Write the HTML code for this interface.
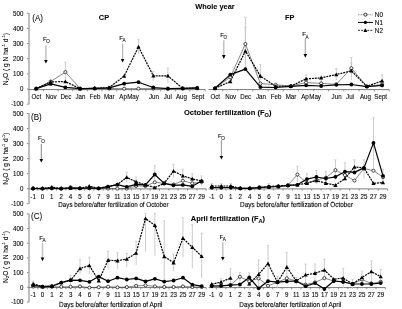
<!DOCTYPE html><html><head><meta charset="utf-8"><style>html,body{margin:0;padding:0;background:#fff;overflow:hidden;width:402px;height:309px;}svg{display:block;will-change:transform;filter:blur(0.35px);}text{font-family:"Liberation Sans",sans-serif;fill:#000;stroke:#000;stroke-width:0.08px;}text[font-weight=bold]{stroke-width:0.06px;}</style></head><body>
<svg width="402" height="309" viewBox="0 0 402 309">
<rect width="402" height="309" fill="#fff"/>
<text x="215" y="9.4" font-size="7.4" text-anchor="middle" font-weight="bold" >Whole year</text>
<text x="184" y="115.4" font-size="7.55" font-weight="bold">October fertilization (F<tspan font-size="5.6" dy="1.6">O</tspan><tspan dy="-1.6">)</tspan></text>
<text x="190.8" y="221.4" font-size="7.45" font-weight="bold">April fertilization (F<tspan font-size="5.6" dy="1.6">A</tspan><tspan dy="-1.6">)</tspan></text>
<text x="98.8" y="19.9" font-size="7.4" text-anchor="start" font-weight="bold" >CP</text>
<text x="284.9" y="19.9" font-size="7.4" text-anchor="start" font-weight="bold" >FP</text>
<text transform="translate(32.2,21.2) scale(1,1.1)" font-size="8.1" text-anchor="start" font-weight="normal" style="stroke-width:0.04px">(A)</text>
<text transform="translate(31,119.8) scale(1,1.1)" font-size="8.1" text-anchor="start" font-weight="normal" style="stroke-width:0.04px">(B)</text>
<text transform="translate(31,219) scale(1,1.1)" font-size="8.1" text-anchor="start" font-weight="normal" style="stroke-width:0.04px">(C)</text>
<line x1="29" y1="13.1" x2="29" y2="104.45" stroke="#b4b4b4" stroke-width="1.7" />
<line x1="26.9" y1="104.15" x2="28.4" y2="104.15" stroke="#555" stroke-width="0.7" />
<text transform="translate(23.4,106.45) scale(1,1.1)" font-size="6.2" text-anchor="end" font-weight="normal" >-100</text>
<line x1="26.9" y1="89" x2="28.4" y2="89" stroke="#555" stroke-width="0.7" />
<text transform="translate(23.4,91.3) scale(1,1.1)" font-size="6.2" text-anchor="end" font-weight="normal" >0</text>
<line x1="26.9" y1="73.85" x2="28.4" y2="73.85" stroke="#555" stroke-width="0.7" />
<text transform="translate(23.4,76.15) scale(1,1.1)" font-size="6.2" text-anchor="end" font-weight="normal" >100</text>
<line x1="26.9" y1="58.7" x2="28.4" y2="58.7" stroke="#555" stroke-width="0.7" />
<text transform="translate(23.4,61) scale(1,1.1)" font-size="6.2" text-anchor="end" font-weight="normal" >200</text>
<line x1="26.9" y1="43.55" x2="28.4" y2="43.55" stroke="#555" stroke-width="0.7" />
<text transform="translate(23.4,45.85) scale(1,1.1)" font-size="6.2" text-anchor="end" font-weight="normal" >300</text>
<line x1="26.9" y1="28.4" x2="28.4" y2="28.4" stroke="#555" stroke-width="0.7" />
<text transform="translate(23.4,30.7) scale(1,1.1)" font-size="6.2" text-anchor="end" font-weight="normal" >400</text>
<line x1="26.9" y1="13.25" x2="28.4" y2="13.25" stroke="#555" stroke-width="0.7" />
<text transform="translate(23.4,15.55) scale(1,1.1)" font-size="6.2" text-anchor="end" font-weight="normal" >500</text>
<line x1="29" y1="113.2" x2="29" y2="204.04" stroke="#b4b4b4" stroke-width="1.7" />
<line x1="26.9" y1="203.74" x2="28.4" y2="203.74" stroke="#555" stroke-width="0.7" />
<text transform="translate(23.4,206.04) scale(1,1.1)" font-size="6.2" text-anchor="end" font-weight="normal" >-100</text>
<line x1="26.9" y1="188.7" x2="28.4" y2="188.7" stroke="#555" stroke-width="0.7" />
<text transform="translate(23.4,191) scale(1,1.1)" font-size="6.2" text-anchor="end" font-weight="normal" >0</text>
<line x1="26.9" y1="173.66" x2="28.4" y2="173.66" stroke="#555" stroke-width="0.7" />
<text transform="translate(23.4,175.96) scale(1,1.1)" font-size="6.2" text-anchor="end" font-weight="normal" >100</text>
<line x1="26.9" y1="158.62" x2="28.4" y2="158.62" stroke="#555" stroke-width="0.7" />
<text transform="translate(23.4,160.92) scale(1,1.1)" font-size="6.2" text-anchor="end" font-weight="normal" >200</text>
<line x1="26.9" y1="143.58" x2="28.4" y2="143.58" stroke="#555" stroke-width="0.7" />
<text transform="translate(23.4,145.88) scale(1,1.1)" font-size="6.2" text-anchor="end" font-weight="normal" >300</text>
<line x1="26.9" y1="128.54" x2="28.4" y2="128.54" stroke="#555" stroke-width="0.7" />
<text transform="translate(23.4,130.84) scale(1,1.1)" font-size="6.2" text-anchor="end" font-weight="normal" >400</text>
<line x1="26.9" y1="113.5" x2="28.4" y2="113.5" stroke="#555" stroke-width="0.7" />
<text transform="translate(23.4,115.8) scale(1,1.1)" font-size="6.2" text-anchor="end" font-weight="normal" >500</text>
<line x1="29" y1="213.4" x2="29" y2="302.28" stroke="#b4b4b4" stroke-width="1.7" />
<line x1="26.9" y1="301.98" x2="28.4" y2="301.98" stroke="#555" stroke-width="0.7" />
<text transform="translate(23.4,304.28) scale(1,1.1)" font-size="6.2" text-anchor="end" font-weight="normal" >-100</text>
<line x1="26.9" y1="287.3" x2="28.4" y2="287.3" stroke="#555" stroke-width="0.7" />
<text transform="translate(23.4,289.6) scale(1,1.1)" font-size="6.2" text-anchor="end" font-weight="normal" >0</text>
<line x1="26.9" y1="272.62" x2="28.4" y2="272.62" stroke="#555" stroke-width="0.7" />
<text transform="translate(23.4,274.92) scale(1,1.1)" font-size="6.2" text-anchor="end" font-weight="normal" >100</text>
<line x1="26.9" y1="257.94" x2="28.4" y2="257.94" stroke="#555" stroke-width="0.7" />
<text transform="translate(23.4,260.24) scale(1,1.1)" font-size="6.2" text-anchor="end" font-weight="normal" >200</text>
<line x1="26.9" y1="243.26" x2="28.4" y2="243.26" stroke="#555" stroke-width="0.7" />
<text transform="translate(23.4,245.56) scale(1,1.1)" font-size="6.2" text-anchor="end" font-weight="normal" >300</text>
<line x1="26.9" y1="228.58" x2="28.4" y2="228.58" stroke="#555" stroke-width="0.7" />
<text transform="translate(23.4,230.88) scale(1,1.1)" font-size="6.2" text-anchor="end" font-weight="normal" >400</text>
<line x1="26.9" y1="213.9" x2="28.4" y2="213.9" stroke="#555" stroke-width="0.7" />
<text transform="translate(23.4,216.2) scale(1,1.1)" font-size="6.2" text-anchor="end" font-weight="normal" >500</text>
<text transform="translate(7.8,59.1) rotate(-90)" font-size="6.6" text-anchor="middle">N<tspan font-size="4.4" dy="1.6">2</tspan><tspan dy="-1.6">O ( g N ha</tspan><tspan font-size="3.8" dy="-2.6">-1</tspan><tspan dy="2.6"> d</tspan><tspan font-size="3.8" dy="-2.6">-1</tspan><tspan dy="2.6">)</tspan></text>
<text transform="translate(7.8,158.8) rotate(-90)" font-size="6.6" text-anchor="middle">N<tspan font-size="4.4" dy="1.6">2</tspan><tspan dy="-1.6">O ( g N ha</tspan><tspan font-size="3.8" dy="-2.6">-1</tspan><tspan dy="2.6"> d</tspan><tspan font-size="3.8" dy="-2.6">-1</tspan><tspan dy="2.6">)</tspan></text>
<text transform="translate(7.8,257) rotate(-90)" font-size="6.6" text-anchor="middle">N<tspan font-size="4.4" dy="1.6">2</tspan><tspan dy="-1.6">O ( g N ha</tspan><tspan font-size="3.8" dy="-2.6">-1</tspan><tspan dy="2.6"> d</tspan><tspan font-size="3.8" dy="-2.6">-1</tspan><tspan dy="2.6">)</tspan></text>
<line x1="28.5" y1="89.6" x2="205.4" y2="89.6" stroke="#7a7a7a" stroke-width="1.0" />
<line x1="43.45" y1="89.6" x2="43.45" y2="91.4" stroke="#555" stroke-width="0.6" />
<line x1="58.05" y1="89.6" x2="58.05" y2="91.4" stroke="#555" stroke-width="0.6" />
<line x1="72.75" y1="89.6" x2="72.75" y2="91.4" stroke="#555" stroke-width="0.6" />
<line x1="87.4" y1="89.6" x2="87.4" y2="91.4" stroke="#555" stroke-width="0.6" />
<line x1="102" y1="89.6" x2="102" y2="91.4" stroke="#555" stroke-width="0.6" />
<line x1="116.75" y1="89.6" x2="116.75" y2="91.4" stroke="#555" stroke-width="0.6" />
<line x1="131.35" y1="89.6" x2="131.35" y2="91.4" stroke="#555" stroke-width="0.6" />
<line x1="145.9" y1="89.6" x2="145.9" y2="91.4" stroke="#555" stroke-width="0.6" />
<line x1="160.6" y1="89.6" x2="160.6" y2="91.4" stroke="#555" stroke-width="0.6" />
<line x1="175.3" y1="89.6" x2="175.3" y2="91.4" stroke="#555" stroke-width="0.6" />
<line x1="189.95" y1="89.6" x2="189.95" y2="91.4" stroke="#555" stroke-width="0.6" />
<line x1="205.2" y1="89.6" x2="205.2" y2="91.4" stroke="#555" stroke-width="0.6" />
<line x1="208.4" y1="89.6" x2="389.3" y2="89.6" stroke="#7a7a7a" stroke-width="1.0" />
<line x1="222.65" y1="89.6" x2="222.65" y2="91.4" stroke="#555" stroke-width="0.6" />
<line x1="237.85" y1="89.6" x2="237.85" y2="91.4" stroke="#555" stroke-width="0.6" />
<line x1="252.9" y1="89.6" x2="252.9" y2="91.4" stroke="#555" stroke-width="0.6" />
<line x1="268" y1="89.6" x2="268" y2="91.4" stroke="#555" stroke-width="0.6" />
<line x1="283.2" y1="89.6" x2="283.2" y2="91.4" stroke="#555" stroke-width="0.6" />
<line x1="298.45" y1="89.6" x2="298.45" y2="91.4" stroke="#555" stroke-width="0.6" />
<line x1="313.65" y1="89.6" x2="313.65" y2="91.4" stroke="#555" stroke-width="0.6" />
<line x1="328.75" y1="89.6" x2="328.75" y2="91.4" stroke="#555" stroke-width="0.6" />
<line x1="343.85" y1="89.6" x2="343.85" y2="91.4" stroke="#555" stroke-width="0.6" />
<line x1="359.1" y1="89.6" x2="359.1" y2="91.4" stroke="#555" stroke-width="0.6" />
<line x1="374.45" y1="89.6" x2="374.45" y2="91.4" stroke="#555" stroke-width="0.6" />
<line x1="389.3" y1="89.6" x2="389.3" y2="91.4" stroke="#555" stroke-width="0.6" />
<text transform="translate(36.3,98.9) scale(1,1.1)" font-size="6.2" text-anchor="middle" font-weight="normal" >Oct</text>
<text transform="translate(51,98.9) scale(1,1.1)" font-size="6.2" text-anchor="middle" font-weight="normal" >Nov</text>
<text transform="translate(65.9,98.9) scale(1,1.1)" font-size="6.2" text-anchor="middle" font-weight="normal" >Dec</text>
<text transform="translate(80.5,98.9) scale(1,1.1)" font-size="6.2" text-anchor="middle" font-weight="normal" >Jan</text>
<text transform="translate(95,98.9) scale(1,1.1)" font-size="6.2" text-anchor="middle" font-weight="normal" >Feb</text>
<text transform="translate(109.2,98.9) scale(1,1.1)" font-size="6.2" text-anchor="middle" font-weight="normal" >Mar</text>
<text transform="translate(123.1,98.9) scale(1,1.1)" font-size="6.2" text-anchor="middle" font-weight="normal" >Ap</text>
<text transform="translate(133,98.9) scale(1,1.1)" font-size="6.2" text-anchor="middle" font-weight="normal" >May</text>
<text transform="translate(153.9,98.9) scale(1,1.1)" font-size="6.2" text-anchor="middle" font-weight="normal" >Jun</text>
<text transform="translate(167.8,98.9) scale(1,1.1)" font-size="6.2" text-anchor="middle" font-weight="normal" >Jul</text>
<text transform="translate(181.5,98.9) scale(1,1.1)" font-size="6.2" text-anchor="middle" font-weight="normal" >Aug</text>
<text transform="translate(197.8,98.9) scale(1,1.1)" font-size="6.2" text-anchor="middle" font-weight="normal" >Sept</text>
<text transform="translate(215.2,98.9) scale(1,1.1)" font-size="6.2" text-anchor="middle" font-weight="normal" >Oct</text>
<text transform="translate(230.7,98.9) scale(1,1.1)" font-size="6.2" text-anchor="middle" font-weight="normal" >Nov</text>
<text transform="translate(245.7,98.9) scale(1,1.1)" font-size="6.2" text-anchor="middle" font-weight="normal" >Dec</text>
<text transform="translate(260.9,98.9) scale(1,1.1)" font-size="6.2" text-anchor="middle" font-weight="normal" >Jan</text>
<text transform="translate(276,98.9) scale(1,1.1)" font-size="6.2" text-anchor="middle" font-weight="normal" >Feb</text>
<text transform="translate(291,98.9) scale(1,1.1)" font-size="6.2" text-anchor="middle" font-weight="normal" >Mar</text>
<text transform="translate(305,98.9) scale(1,1.1)" font-size="6.2" text-anchor="middle" font-weight="normal" >Ap</text>
<text transform="translate(315.1,98.9) scale(1,1.1)" font-size="6.2" text-anchor="middle" font-weight="normal" >May</text>
<text transform="translate(336.6,98.9) scale(1,1.1)" font-size="6.2" text-anchor="middle" font-weight="normal" >Jun</text>
<text transform="translate(350,98.9) scale(1,1.1)" font-size="6.2" text-anchor="middle" font-weight="normal" >Jul</text>
<text transform="translate(365.5,98.9) scale(1,1.1)" font-size="6.2" text-anchor="middle" font-weight="normal" >Aug</text>
<text transform="translate(380.7,98.9) scale(1,1.1)" font-size="6.2" text-anchor="middle" font-weight="normal" >Sept</text>
<line x1="65.4" y1="62.3" x2="65.4" y2="81" stroke="#c8c8c8" stroke-width="0.95" />
<line x1="64.2" y1="62.3" x2="66.6" y2="62.3" stroke="#c8c8c8" stroke-width="0.8" />
<line x1="138.5" y1="39.5" x2="138.5" y2="54" stroke="#c8c8c8" stroke-width="0.95" />
<line x1="137.3" y1="39.5" x2="139.7" y2="39.5" stroke="#c8c8c8" stroke-width="0.8" />
<line x1="153.3" y1="71.5" x2="153.3" y2="81.1" stroke="#c8c8c8" stroke-width="0.95" />
<line x1="152.1" y1="71.5" x2="154.5" y2="71.5" stroke="#c8c8c8" stroke-width="0.8" />
<line x1="167.9" y1="68.1" x2="167.9" y2="82.9" stroke="#c8c8c8" stroke-width="0.95" />
<line x1="166.7" y1="68.1" x2="169.1" y2="68.1" stroke="#c8c8c8" stroke-width="0.8" />
<polyline points="36.2,88.6 50.7,81.5 65.4,72.1 80.1,88.6 94.7,88.5 109.3,88.5 124.2,88.7 138.5,88.6 153.3,88.6 167.9,88.6 182.7,88.6 197.2,88.3" fill="none" stroke="#222" stroke-width="0.55" stroke-linejoin="round" />
<polyline points="36.2,88.6 50.7,81.9 65.4,81.6 80.1,88.6 94.7,88.4 109.3,87.5 124.2,76 138.5,46.8 153.3,75.8 167.9,75.9 182.7,88.4 197.2,88" fill="none" stroke="#000" stroke-width="1.2" stroke-linejoin="round" stroke-dasharray="2.0,0.9"/>
<polyline points="36.2,88.6 50.7,83.9 65.4,87.4 80.1,88.7 94.7,88.4 109.3,87.9 124.2,83.7 138.5,82.2 153.3,87.5 167.9,88.7 182.7,88.4 197.2,87.8" fill="none" stroke="#000" stroke-width="1.2" stroke-linejoin="round" />
<circle cx="36.2" cy="88.6" r="1.55" fill="#fff" stroke="#000" stroke-width="0.7"/>
<circle cx="50.7" cy="81.5" r="1.55" fill="#fff" stroke="#000" stroke-width="0.7"/>
<circle cx="65.4" cy="72.1" r="1.55" fill="#fff" stroke="#000" stroke-width="0.7"/>
<circle cx="80.1" cy="88.6" r="1.55" fill="#fff" stroke="#000" stroke-width="0.7"/>
<circle cx="94.7" cy="88.5" r="1.55" fill="#fff" stroke="#000" stroke-width="0.7"/>
<circle cx="109.3" cy="88.5" r="1.55" fill="#fff" stroke="#000" stroke-width="0.7"/>
<circle cx="124.2" cy="88.7" r="1.55" fill="#fff" stroke="#000" stroke-width="0.7"/>
<circle cx="138.5" cy="88.6" r="1.55" fill="#fff" stroke="#000" stroke-width="0.7"/>
<circle cx="153.3" cy="88.6" r="1.55" fill="#fff" stroke="#000" stroke-width="0.7"/>
<circle cx="167.9" cy="88.6" r="1.55" fill="#fff" stroke="#000" stroke-width="0.7"/>
<circle cx="182.7" cy="88.6" r="1.55" fill="#fff" stroke="#000" stroke-width="0.7"/>
<circle cx="197.2" cy="88.3" r="1.55" fill="#fff" stroke="#000" stroke-width="0.7"/>
<polygon points="36.2,86.5 34.1,90.28 38.3,90.28" fill="#000"/>
<polygon points="50.7,79.8 48.6,83.58 52.8,83.58" fill="#000"/>
<polygon points="65.4,79.5 63.3,83.28 67.5,83.28" fill="#000"/>
<polygon points="80.1,86.5 78,90.28 82.2,90.28" fill="#000"/>
<polygon points="94.7,86.3 92.6,90.08 96.8,90.08" fill="#000"/>
<polygon points="109.3,85.4 107.2,89.18 111.4,89.18" fill="#000"/>
<polygon points="124.2,73.9 122.1,77.68 126.3,77.68" fill="#000"/>
<polygon points="138.5,44.7 136.4,48.48 140.6,48.48" fill="#000"/>
<polygon points="153.3,73.7 151.2,77.48 155.4,77.48" fill="#000"/>
<polygon points="167.9,73.8 165.8,77.58 170,77.58" fill="#000"/>
<polygon points="182.7,86.3 180.6,90.08 184.8,90.08" fill="#000"/>
<polygon points="197.2,85.9 195.1,89.68 199.3,89.68" fill="#000"/>
<circle cx="36.2" cy="88.6" r="1.9" fill="#000" stroke="none" stroke-width="0.8"/>
<circle cx="50.7" cy="83.9" r="1.9" fill="#000" stroke="none" stroke-width="0.8"/>
<circle cx="65.4" cy="87.4" r="1.9" fill="#000" stroke="none" stroke-width="0.8"/>
<circle cx="80.1" cy="88.7" r="1.9" fill="#000" stroke="none" stroke-width="0.8"/>
<circle cx="94.7" cy="88.4" r="1.9" fill="#000" stroke="none" stroke-width="0.8"/>
<circle cx="109.3" cy="87.9" r="1.9" fill="#000" stroke="none" stroke-width="0.8"/>
<circle cx="124.2" cy="83.7" r="1.9" fill="#000" stroke="none" stroke-width="0.8"/>
<circle cx="138.5" cy="82.2" r="1.9" fill="#000" stroke="none" stroke-width="0.8"/>
<circle cx="153.3" cy="87.5" r="1.9" fill="#000" stroke="none" stroke-width="0.8"/>
<circle cx="167.9" cy="88.7" r="1.9" fill="#000" stroke="none" stroke-width="0.8"/>
<circle cx="182.7" cy="88.4" r="1.9" fill="#000" stroke="none" stroke-width="0.8"/>
<circle cx="197.2" cy="87.8" r="1.9" fill="#000" stroke="none" stroke-width="0.8"/>
<line x1="245.4" y1="17.3" x2="245.4" y2="70" stroke="#c8c8c8" stroke-width="0.95" />
<line x1="244.2" y1="17.3" x2="246.6" y2="17.3" stroke="#c8c8c8" stroke-width="0.8" />
<line x1="245.4" y1="27.3" x2="245.4" y2="60" stroke="#c8c8c8" stroke-width="0.95" />
<line x1="244.2" y1="27.3" x2="246.6" y2="27.3" stroke="#c8c8c8" stroke-width="0.8" />
<line x1="260.4" y1="64.4" x2="260.4" y2="79.9" stroke="#c8c8c8" stroke-width="0.95" />
<line x1="259.2" y1="64.4" x2="261.6" y2="64.4" stroke="#c8c8c8" stroke-width="0.8" />
<line x1="306.1" y1="74.9" x2="306.1" y2="82" stroke="#c8c8c8" stroke-width="0.95" />
<line x1="304.9" y1="74.9" x2="307.3" y2="74.9" stroke="#c8c8c8" stroke-width="0.8" />
<line x1="321.2" y1="76" x2="321.2" y2="82" stroke="#c8c8c8" stroke-width="0.95" />
<line x1="320" y1="76" x2="322.4" y2="76" stroke="#c8c8c8" stroke-width="0.8" />
<line x1="336.3" y1="68.5" x2="336.3" y2="80" stroke="#c8c8c8" stroke-width="0.95" />
<line x1="335.1" y1="68.5" x2="337.5" y2="68.5" stroke="#c8c8c8" stroke-width="0.8" />
<line x1="351.4" y1="57.4" x2="351.4" y2="80" stroke="#c8c8c8" stroke-width="0.95" />
<line x1="350.2" y1="57.4" x2="352.6" y2="57.4" stroke="#c8c8c8" stroke-width="0.8" />
<line x1="351.4" y1="63" x2="351.4" y2="75" stroke="#c8c8c8" stroke-width="0.95" />
<line x1="350.2" y1="63" x2="352.6" y2="63" stroke="#c8c8c8" stroke-width="0.8" />
<line x1="382.1" y1="74.9" x2="382.1" y2="86" stroke="#c8c8c8" stroke-width="0.95" />
<line x1="380.9" y1="74.9" x2="383.3" y2="74.9" stroke="#c8c8c8" stroke-width="0.8" />
<polyline points="215,88.3 230.3,77.2 245.4,44 260.4,83.5 275.6,84.8 290.8,86 306.1,82.6 321.2,83.4 336.3,84.3 351.4,68.2 366.8,86.4 382.1,84.5" fill="none" stroke="#222" stroke-width="0.55" stroke-linejoin="round" />
<polyline points="215,88.3 230.3,81.5 245.4,51 260.4,76.1 275.6,86.3 290.8,86.2 306.1,78.9 321.2,77.9 336.3,74.5 351.4,70.9 366.8,86.4 382.1,80.9" fill="none" stroke="#000" stroke-width="1.2" stroke-linejoin="round" stroke-dasharray="2.0,0.9"/>
<polyline points="215,88.3 230.3,74.6 245.4,69.1 260.4,87.1 275.6,87.5 290.8,86.3 306.1,85.3 321.2,86 336.3,84.8 351.4,84.5 366.8,86.6 382.1,85.4" fill="none" stroke="#000" stroke-width="1.2" stroke-linejoin="round" />
<circle cx="215" cy="88.3" r="1.55" fill="#fff" stroke="#000" stroke-width="0.7"/>
<circle cx="230.3" cy="77.2" r="1.55" fill="#fff" stroke="#000" stroke-width="0.7"/>
<circle cx="245.4" cy="44" r="1.55" fill="#fff" stroke="#000" stroke-width="0.7"/>
<circle cx="260.4" cy="83.5" r="1.55" fill="#fff" stroke="#000" stroke-width="0.7"/>
<circle cx="275.6" cy="84.8" r="1.55" fill="#fff" stroke="#000" stroke-width="0.7"/>
<circle cx="290.8" cy="86" r="1.55" fill="#fff" stroke="#000" stroke-width="0.7"/>
<circle cx="306.1" cy="82.6" r="1.55" fill="#fff" stroke="#000" stroke-width="0.7"/>
<circle cx="321.2" cy="83.4" r="1.55" fill="#fff" stroke="#000" stroke-width="0.7"/>
<circle cx="336.3" cy="84.3" r="1.55" fill="#fff" stroke="#000" stroke-width="0.7"/>
<circle cx="351.4" cy="68.2" r="1.55" fill="#fff" stroke="#000" stroke-width="0.7"/>
<circle cx="366.8" cy="86.4" r="1.55" fill="#fff" stroke="#000" stroke-width="0.7"/>
<circle cx="382.1" cy="84.5" r="1.55" fill="#fff" stroke="#000" stroke-width="0.7"/>
<polygon points="215,86.2 212.9,89.98 217.1,89.98" fill="#000"/>
<polygon points="230.3,79.4 228.2,83.18 232.4,83.18" fill="#000"/>
<polygon points="245.4,48.9 243.3,52.68 247.5,52.68" fill="#000"/>
<polygon points="260.4,74 258.3,77.78 262.5,77.78" fill="#000"/>
<polygon points="275.6,84.2 273.5,87.98 277.7,87.98" fill="#000"/>
<polygon points="290.8,84.1 288.7,87.88 292.9,87.88" fill="#000"/>
<polygon points="306.1,76.8 304,80.58 308.2,80.58" fill="#000"/>
<polygon points="321.2,75.8 319.1,79.58 323.3,79.58" fill="#000"/>
<polygon points="336.3,72.4 334.2,76.18 338.4,76.18" fill="#000"/>
<polygon points="351.4,68.8 349.3,72.58 353.5,72.58" fill="#000"/>
<polygon points="366.8,84.3 364.7,88.08 368.9,88.08" fill="#000"/>
<polygon points="382.1,78.8 380,82.58 384.2,82.58" fill="#000"/>
<circle cx="215" cy="88.3" r="1.9" fill="#000" stroke="none" stroke-width="0.8"/>
<circle cx="230.3" cy="74.6" r="1.9" fill="#000" stroke="none" stroke-width="0.8"/>
<circle cx="245.4" cy="69.1" r="1.9" fill="#000" stroke="none" stroke-width="0.8"/>
<circle cx="260.4" cy="87.1" r="1.9" fill="#000" stroke="none" stroke-width="0.8"/>
<circle cx="275.6" cy="87.5" r="1.9" fill="#000" stroke="none" stroke-width="0.8"/>
<circle cx="290.8" cy="86.3" r="1.9" fill="#000" stroke="none" stroke-width="0.8"/>
<circle cx="306.1" cy="85.3" r="1.9" fill="#000" stroke="none" stroke-width="0.8"/>
<circle cx="321.2" cy="86" r="1.9" fill="#000" stroke="none" stroke-width="0.8"/>
<circle cx="336.3" cy="84.8" r="1.9" fill="#000" stroke="none" stroke-width="0.8"/>
<circle cx="351.4" cy="84.5" r="1.9" fill="#000" stroke="none" stroke-width="0.8"/>
<circle cx="366.8" cy="86.6" r="1.9" fill="#000" stroke="none" stroke-width="0.8"/>
<circle cx="382.1" cy="85.4" r="1.9" fill="#000" stroke="none" stroke-width="0.8"/>
<text x="42.9" y="40.9" font-size="6.2" text-anchor="start" font-weight="normal" >F</text>
<text x="46.2" y="43.2" font-size="4.6" text-anchor="start" font-weight="normal" >O</text>
<line x1="45.9" y1="45.5" x2="45.9" y2="60.4" stroke="#b8b8b8" stroke-width="1.3" />
<polygon points="44.1,59.9 47.7,59.9 45.9,63.5" fill="#000"/>
<text x="119.3" y="40.1" font-size="6.2" text-anchor="start" font-weight="normal" >F</text>
<text x="122.6" y="42.4" font-size="4.6" text-anchor="start" font-weight="normal" >A</text>
<line x1="122.6" y1="43.6" x2="122.6" y2="59.5" stroke="#b8b8b8" stroke-width="1.3" />
<polygon points="120.8,59 124.4,59 122.6,62.4" fill="#000"/>
<text x="220.2" y="37" font-size="6.2" text-anchor="start" font-weight="normal" >F</text>
<text x="223.5" y="39.3" font-size="4.6" text-anchor="start" font-weight="normal" >O</text>
<line x1="223.8" y1="40.3" x2="223.8" y2="55.5" stroke="#b8b8b8" stroke-width="1.3" />
<polygon points="222,55 225.6,55 223.8,58.9" fill="#000"/>
<text x="302.2" y="36.3" font-size="6.2" text-anchor="start" font-weight="normal" >F</text>
<text x="305.5" y="38.6" font-size="4.6" text-anchor="start" font-weight="normal" >A</text>
<line x1="305.3" y1="38.9" x2="305.3" y2="54.5" stroke="#aaaaaa" stroke-width="1.2" />
<polygon points="303.5,54 307.1,54 305.3,57.7" fill="#000"/>
<line x1="28.5" y1="188.9" x2="206.2" y2="188.9" stroke="#7a7a7a" stroke-width="1.0" />
<line x1="37.78" y1="188.9" x2="37.78" y2="190.7" stroke="#555" stroke-width="0.6" />
<line x1="47.14" y1="188.9" x2="47.14" y2="190.7" stroke="#555" stroke-width="0.6" />
<line x1="56.5" y1="188.9" x2="56.5" y2="190.7" stroke="#555" stroke-width="0.6" />
<line x1="65.86" y1="188.9" x2="65.86" y2="190.7" stroke="#555" stroke-width="0.6" />
<line x1="75.22" y1="188.9" x2="75.22" y2="190.7" stroke="#555" stroke-width="0.6" />
<line x1="84.58" y1="188.9" x2="84.58" y2="190.7" stroke="#555" stroke-width="0.6" />
<line x1="93.94" y1="188.9" x2="93.94" y2="190.7" stroke="#555" stroke-width="0.6" />
<line x1="103.3" y1="188.9" x2="103.3" y2="190.7" stroke="#555" stroke-width="0.6" />
<line x1="112.66" y1="188.9" x2="112.66" y2="190.7" stroke="#555" stroke-width="0.6" />
<line x1="122.02" y1="188.9" x2="122.02" y2="190.7" stroke="#555" stroke-width="0.6" />
<line x1="131.38" y1="188.9" x2="131.38" y2="190.7" stroke="#555" stroke-width="0.6" />
<line x1="140.74" y1="188.9" x2="140.74" y2="190.7" stroke="#555" stroke-width="0.6" />
<line x1="150.1" y1="188.9" x2="150.1" y2="190.7" stroke="#555" stroke-width="0.6" />
<line x1="159.46" y1="188.9" x2="159.46" y2="190.7" stroke="#555" stroke-width="0.6" />
<line x1="168.82" y1="188.9" x2="168.82" y2="190.7" stroke="#555" stroke-width="0.6" />
<line x1="178.18" y1="188.9" x2="178.18" y2="190.7" stroke="#555" stroke-width="0.6" />
<line x1="187.54" y1="188.9" x2="187.54" y2="190.7" stroke="#555" stroke-width="0.6" />
<line x1="196.9" y1="188.9" x2="196.9" y2="190.7" stroke="#555" stroke-width="0.6" />
<line x1="206.26" y1="188.9" x2="206.26" y2="190.7" stroke="#555" stroke-width="0.6" />
<line x1="208.6" y1="188.9" x2="387.5" y2="188.9" stroke="#7a7a7a" stroke-width="1.0" />
<line x1="216.55" y1="188.9" x2="216.55" y2="190.7" stroke="#555" stroke-width="0.6" />
<line x1="226.06" y1="188.9" x2="226.06" y2="190.7" stroke="#555" stroke-width="0.6" />
<line x1="235.57" y1="188.9" x2="235.57" y2="190.7" stroke="#555" stroke-width="0.6" />
<line x1="245.08" y1="188.9" x2="245.08" y2="190.7" stroke="#555" stroke-width="0.6" />
<line x1="254.59" y1="188.9" x2="254.59" y2="190.7" stroke="#555" stroke-width="0.6" />
<line x1="264.1" y1="188.9" x2="264.1" y2="190.7" stroke="#555" stroke-width="0.6" />
<line x1="273.61" y1="188.9" x2="273.61" y2="190.7" stroke="#555" stroke-width="0.6" />
<line x1="283.12" y1="188.9" x2="283.12" y2="190.7" stroke="#555" stroke-width="0.6" />
<line x1="292.63" y1="188.9" x2="292.63" y2="190.7" stroke="#555" stroke-width="0.6" />
<line x1="302.14" y1="188.9" x2="302.14" y2="190.7" stroke="#555" stroke-width="0.6" />
<line x1="311.65" y1="188.9" x2="311.65" y2="190.7" stroke="#555" stroke-width="0.6" />
<line x1="321.16" y1="188.9" x2="321.16" y2="190.7" stroke="#555" stroke-width="0.6" />
<line x1="330.67" y1="188.9" x2="330.67" y2="190.7" stroke="#555" stroke-width="0.6" />
<line x1="340.18" y1="188.9" x2="340.18" y2="190.7" stroke="#555" stroke-width="0.6" />
<line x1="349.69" y1="188.9" x2="349.69" y2="190.7" stroke="#555" stroke-width="0.6" />
<line x1="359.2" y1="188.9" x2="359.2" y2="190.7" stroke="#555" stroke-width="0.6" />
<line x1="368.71" y1="188.9" x2="368.71" y2="190.7" stroke="#555" stroke-width="0.6" />
<line x1="378.22" y1="188.9" x2="378.22" y2="190.7" stroke="#555" stroke-width="0.6" />
<line x1="387.73" y1="188.9" x2="387.73" y2="190.7" stroke="#555" stroke-width="0.6" />
<text transform="translate(33.1,198.8) scale(1,1.1)" font-size="6.2" text-anchor="middle" font-weight="normal" >-1</text>
<text transform="translate(42.46,198.8) scale(1,1.1)" font-size="6.2" text-anchor="middle" font-weight="normal" >0</text>
<text transform="translate(51.82,198.8) scale(1,1.1)" font-size="6.2" text-anchor="middle" font-weight="normal" >1</text>
<text transform="translate(61.18,198.8) scale(1,1.1)" font-size="6.2" text-anchor="middle" font-weight="normal" >2</text>
<text transform="translate(70.54,198.8) scale(1,1.1)" font-size="6.2" text-anchor="middle" font-weight="normal" >4</text>
<text transform="translate(79.9,198.8) scale(1,1.1)" font-size="6.2" text-anchor="middle" font-weight="normal" >5</text>
<text transform="translate(89.26,198.8) scale(1,1.1)" font-size="6.2" text-anchor="middle" font-weight="normal" >6</text>
<text transform="translate(98.62,198.8) scale(1,1.1)" font-size="6.2" text-anchor="middle" font-weight="normal" >7</text>
<text transform="translate(107.98,198.8) scale(1,1.1)" font-size="6.2" text-anchor="middle" font-weight="normal" >9</text>
<text transform="translate(117.34,198.8) scale(1,1.1)" font-size="6.2" text-anchor="middle" font-weight="normal" >11</text>
<text transform="translate(126.7,198.8) scale(1,1.1)" font-size="6.2" text-anchor="middle" font-weight="normal" >13</text>
<text transform="translate(136.06,198.8) scale(1,1.1)" font-size="6.2" text-anchor="middle" font-weight="normal" >15</text>
<text transform="translate(145.42,198.8) scale(1,1.1)" font-size="6.2" text-anchor="middle" font-weight="normal" >17</text>
<text transform="translate(154.78,198.8) scale(1,1.1)" font-size="6.2" text-anchor="middle" font-weight="normal" >19</text>
<text transform="translate(164.14,198.8) scale(1,1.1)" font-size="6.2" text-anchor="middle" font-weight="normal" >21</text>
<text transform="translate(173.5,198.8) scale(1,1.1)" font-size="6.2" text-anchor="middle" font-weight="normal" >23</text>
<text transform="translate(182.86,198.8) scale(1,1.1)" font-size="6.2" text-anchor="middle" font-weight="normal" >25</text>
<text transform="translate(192.22,198.8) scale(1,1.1)" font-size="6.2" text-anchor="middle" font-weight="normal" >27</text>
<text transform="translate(201.58,198.8) scale(1,1.1)" font-size="6.2" text-anchor="middle" font-weight="normal" >29</text>
<text transform="translate(211.8,198.8) scale(1,1.1)" font-size="6.2" text-anchor="middle" font-weight="normal" >-1</text>
<text transform="translate(221.31,198.8) scale(1,1.1)" font-size="6.2" text-anchor="middle" font-weight="normal" >0</text>
<text transform="translate(230.82,198.8) scale(1,1.1)" font-size="6.2" text-anchor="middle" font-weight="normal" >1</text>
<text transform="translate(240.33,198.8) scale(1,1.1)" font-size="6.2" text-anchor="middle" font-weight="normal" >2</text>
<text transform="translate(249.84,198.8) scale(1,1.1)" font-size="6.2" text-anchor="middle" font-weight="normal" >4</text>
<text transform="translate(259.35,198.8) scale(1,1.1)" font-size="6.2" text-anchor="middle" font-weight="normal" >5</text>
<text transform="translate(268.86,198.8) scale(1,1.1)" font-size="6.2" text-anchor="middle" font-weight="normal" >6</text>
<text transform="translate(278.37,198.8) scale(1,1.1)" font-size="6.2" text-anchor="middle" font-weight="normal" >7</text>
<text transform="translate(287.88,198.8) scale(1,1.1)" font-size="6.2" text-anchor="middle" font-weight="normal" >9</text>
<text transform="translate(297.39,198.8) scale(1,1.1)" font-size="6.2" text-anchor="middle" font-weight="normal" >11</text>
<text transform="translate(306.9,198.8) scale(1,1.1)" font-size="6.2" text-anchor="middle" font-weight="normal" >13</text>
<text transform="translate(316.41,198.8) scale(1,1.1)" font-size="6.2" text-anchor="middle" font-weight="normal" >15</text>
<text transform="translate(325.92,198.8) scale(1,1.1)" font-size="6.2" text-anchor="middle" font-weight="normal" >17</text>
<text transform="translate(335.43,198.8) scale(1,1.1)" font-size="6.2" text-anchor="middle" font-weight="normal" >19</text>
<text transform="translate(344.94,198.8) scale(1,1.1)" font-size="6.2" text-anchor="middle" font-weight="normal" >21</text>
<text transform="translate(354.45,198.8) scale(1,1.1)" font-size="6.2" text-anchor="middle" font-weight="normal" >23</text>
<text transform="translate(363.96,198.8) scale(1,1.1)" font-size="6.2" text-anchor="middle" font-weight="normal" >25</text>
<text transform="translate(373.47,198.8) scale(1,1.1)" font-size="6.2" text-anchor="middle" font-weight="normal" >27</text>
<text transform="translate(382.98,198.8) scale(1,1.1)" font-size="6.2" text-anchor="middle" font-weight="normal" >29</text>
<text transform="translate(58.3,206.9) scale(1,1.15)" font-size="6.24" text-anchor="start" font-weight="normal" style="stroke-width:0.1px;text-rendering:geometricPrecision">Days before/after fertilization of October</text>
<text transform="translate(240.1,207.3) scale(1,1.15)" font-size="6.4" text-anchor="start" font-weight="normal" style="stroke-width:0.1px;text-rendering:geometricPrecision">Days before/after fertilization of October</text>
<line x1="126.7" y1="172.4" x2="126.7" y2="182" stroke="#c8c8c8" stroke-width="0.95" />
<line x1="125.5" y1="172.4" x2="127.9" y2="172.4" stroke="#c8c8c8" stroke-width="0.8" />
<line x1="136.06" y1="177.1" x2="136.06" y2="186" stroke="#c8c8c8" stroke-width="0.95" />
<line x1="134.86" y1="177.1" x2="137.26" y2="177.1" stroke="#c8c8c8" stroke-width="0.8" />
<line x1="154.78" y1="165.7" x2="154.78" y2="183" stroke="#c8c8c8" stroke-width="0.95" />
<line x1="153.58" y1="165.7" x2="155.98" y2="165.7" stroke="#c8c8c8" stroke-width="0.8" />
<line x1="173.5" y1="164.3" x2="173.5" y2="178" stroke="#c8c8c8" stroke-width="0.95" />
<line x1="172.3" y1="164.3" x2="174.7" y2="164.3" stroke="#c8c8c8" stroke-width="0.8" />
<line x1="182.86" y1="169.2" x2="182.86" y2="182" stroke="#c8c8c8" stroke-width="0.95" />
<line x1="181.66" y1="169.2" x2="184.06" y2="169.2" stroke="#c8c8c8" stroke-width="0.8" />
<line x1="192.22" y1="173.7" x2="192.22" y2="184" stroke="#c8c8c8" stroke-width="0.95" />
<line x1="191.02" y1="173.7" x2="193.42" y2="173.7" stroke="#c8c8c8" stroke-width="0.8" />
<line x1="201.58" y1="175.9" x2="201.58" y2="186" stroke="#c8c8c8" stroke-width="0.95" />
<line x1="200.38" y1="175.9" x2="202.78" y2="175.9" stroke="#c8c8c8" stroke-width="0.8" />
<polyline points="33.1,188.5 42.46,188.6 51.82,188.4 61.18,188.6 70.54,187.2 79.9,188.3 89.26,188.3 98.62,188.5 107.98,188.6 117.34,188.6 126.7,188.6 136.06,186 145.42,186 154.78,182.3 164.14,183.4 173.5,184.5 182.86,180.7 192.22,183.4 201.58,182" fill="none" stroke="#222" stroke-width="0.55" stroke-linejoin="round" />
<polyline points="33.1,188 42.46,188.4 51.82,187.2 61.18,188.4 70.54,188 79.9,188.3 89.26,186.2 98.62,188.3 107.98,186.6 117.34,184.6 126.7,177.4 136.06,181.8 145.42,184.9 154.78,187.5 164.14,183.4 173.5,171.1 182.86,175.9 192.22,178.9 201.58,181" fill="none" stroke="#000" stroke-width="1.2" stroke-linejoin="round" stroke-dasharray="2.0,0.9"/>
<polyline points="33.1,188.5 42.46,188.6 51.82,188.2 61.18,188.6 70.54,188 79.9,188.3 89.26,187.9 98.62,188.3 107.98,186.7 117.34,184.6 126.7,186.9 136.06,184.4 145.42,184.9 154.78,174.5 164.14,183.4 173.5,185.3 182.86,184.9 192.22,186.3 201.58,181.1" fill="none" stroke="#000" stroke-width="1.2" stroke-linejoin="round" />
<circle cx="33.1" cy="188.5" r="1.55" fill="#fff" stroke="#000" stroke-width="0.7"/>
<circle cx="42.46" cy="188.6" r="1.55" fill="#fff" stroke="#000" stroke-width="0.7"/>
<circle cx="51.82" cy="188.4" r="1.55" fill="#fff" stroke="#000" stroke-width="0.7"/>
<circle cx="61.18" cy="188.6" r="1.55" fill="#fff" stroke="#000" stroke-width="0.7"/>
<circle cx="70.54" cy="187.2" r="1.55" fill="#fff" stroke="#000" stroke-width="0.7"/>
<circle cx="79.9" cy="188.3" r="1.55" fill="#fff" stroke="#000" stroke-width="0.7"/>
<circle cx="89.26" cy="188.3" r="1.55" fill="#fff" stroke="#000" stroke-width="0.7"/>
<circle cx="98.62" cy="188.5" r="1.55" fill="#fff" stroke="#000" stroke-width="0.7"/>
<circle cx="107.98" cy="188.6" r="1.55" fill="#fff" stroke="#000" stroke-width="0.7"/>
<circle cx="117.34" cy="188.6" r="1.55" fill="#fff" stroke="#000" stroke-width="0.7"/>
<circle cx="126.7" cy="188.6" r="1.55" fill="#fff" stroke="#000" stroke-width="0.7"/>
<circle cx="136.06" cy="186" r="1.55" fill="#fff" stroke="#000" stroke-width="0.7"/>
<circle cx="145.42" cy="186" r="1.55" fill="#fff" stroke="#000" stroke-width="0.7"/>
<circle cx="154.78" cy="182.3" r="1.55" fill="#fff" stroke="#000" stroke-width="0.7"/>
<circle cx="164.14" cy="183.4" r="1.55" fill="#fff" stroke="#000" stroke-width="0.7"/>
<circle cx="173.5" cy="184.5" r="1.55" fill="#fff" stroke="#000" stroke-width="0.7"/>
<circle cx="182.86" cy="180.7" r="1.55" fill="#fff" stroke="#000" stroke-width="0.7"/>
<circle cx="192.22" cy="183.4" r="1.55" fill="#fff" stroke="#000" stroke-width="0.7"/>
<circle cx="201.58" cy="182" r="1.55" fill="#fff" stroke="#000" stroke-width="0.7"/>
<polygon points="33.1,185.9 31,189.68 35.2,189.68" fill="#000"/>
<polygon points="42.46,186.3 40.36,190.08 44.56,190.08" fill="#000"/>
<polygon points="51.82,185.1 49.72,188.88 53.92,188.88" fill="#000"/>
<polygon points="61.18,186.3 59.08,190.08 63.28,190.08" fill="#000"/>
<polygon points="70.54,185.9 68.44,189.68 72.64,189.68" fill="#000"/>
<polygon points="79.9,186.2 77.8,189.98 82,189.98" fill="#000"/>
<polygon points="89.26,184.1 87.16,187.88 91.36,187.88" fill="#000"/>
<polygon points="98.62,186.2 96.52,189.98 100.72,189.98" fill="#000"/>
<polygon points="107.98,184.5 105.88,188.28 110.08,188.28" fill="#000"/>
<polygon points="117.34,182.5 115.24,186.28 119.44,186.28" fill="#000"/>
<polygon points="126.7,175.3 124.6,179.08 128.8,179.08" fill="#000"/>
<polygon points="136.06,179.7 133.96,183.48 138.16,183.48" fill="#000"/>
<polygon points="145.42,182.8 143.32,186.58 147.52,186.58" fill="#000"/>
<polygon points="154.78,185.4 152.68,189.18 156.88,189.18" fill="#000"/>
<polygon points="164.14,181.3 162.04,185.08 166.24,185.08" fill="#000"/>
<polygon points="173.5,169 171.4,172.78 175.6,172.78" fill="#000"/>
<polygon points="182.86,173.8 180.76,177.58 184.96,177.58" fill="#000"/>
<polygon points="192.22,176.8 190.12,180.58 194.32,180.58" fill="#000"/>
<polygon points="201.58,178.9 199.48,182.68 203.68,182.68" fill="#000"/>
<circle cx="33.1" cy="188.5" r="1.9" fill="#000" stroke="none" stroke-width="0.8"/>
<circle cx="42.46" cy="188.6" r="1.9" fill="#000" stroke="none" stroke-width="0.8"/>
<circle cx="51.82" cy="188.2" r="1.9" fill="#000" stroke="none" stroke-width="0.8"/>
<circle cx="61.18" cy="188.6" r="1.9" fill="#000" stroke="none" stroke-width="0.8"/>
<circle cx="70.54" cy="188" r="1.9" fill="#000" stroke="none" stroke-width="0.8"/>
<circle cx="79.9" cy="188.3" r="1.9" fill="#000" stroke="none" stroke-width="0.8"/>
<circle cx="89.26" cy="187.9" r="1.9" fill="#000" stroke="none" stroke-width="0.8"/>
<circle cx="98.62" cy="188.3" r="1.9" fill="#000" stroke="none" stroke-width="0.8"/>
<circle cx="107.98" cy="186.7" r="1.9" fill="#000" stroke="none" stroke-width="0.8"/>
<circle cx="117.34" cy="184.6" r="1.9" fill="#000" stroke="none" stroke-width="0.8"/>
<circle cx="126.7" cy="186.9" r="1.9" fill="#000" stroke="none" stroke-width="0.8"/>
<circle cx="136.06" cy="184.4" r="1.9" fill="#000" stroke="none" stroke-width="0.8"/>
<circle cx="145.42" cy="184.9" r="1.9" fill="#000" stroke="none" stroke-width="0.8"/>
<circle cx="154.78" cy="174.5" r="1.9" fill="#000" stroke="none" stroke-width="0.8"/>
<circle cx="164.14" cy="183.4" r="1.9" fill="#000" stroke="none" stroke-width="0.8"/>
<circle cx="173.5" cy="185.3" r="1.9" fill="#000" stroke="none" stroke-width="0.8"/>
<circle cx="182.86" cy="184.9" r="1.9" fill="#000" stroke="none" stroke-width="0.8"/>
<circle cx="192.22" cy="186.3" r="1.9" fill="#000" stroke="none" stroke-width="0.8"/>
<circle cx="201.58" cy="181.1" r="1.9" fill="#000" stroke="none" stroke-width="0.8"/>
<line x1="211.8" y1="183.5" x2="211.8" y2="188" stroke="#c8c8c8" stroke-width="0.95" />
<line x1="210.6" y1="183.5" x2="213" y2="183.5" stroke="#c8c8c8" stroke-width="0.8" />
<line x1="221.31" y1="183.5" x2="221.31" y2="188" stroke="#c8c8c8" stroke-width="0.95" />
<line x1="220.11" y1="183.5" x2="222.51" y2="183.5" stroke="#c8c8c8" stroke-width="0.8" />
<line x1="230.82" y1="183.5" x2="230.82" y2="188" stroke="#c8c8c8" stroke-width="0.95" />
<line x1="229.62" y1="183.5" x2="232.02" y2="183.5" stroke="#c8c8c8" stroke-width="0.8" />
<line x1="268.86" y1="183.5" x2="268.86" y2="188" stroke="#c8c8c8" stroke-width="0.95" />
<line x1="267.66" y1="183.5" x2="270.06" y2="183.5" stroke="#c8c8c8" stroke-width="0.8" />
<line x1="297.39" y1="166.3" x2="297.39" y2="182" stroke="#c8c8c8" stroke-width="0.95" />
<line x1="296.19" y1="166.3" x2="298.59" y2="166.3" stroke="#c8c8c8" stroke-width="0.8" />
<line x1="306.9" y1="173.8" x2="306.9" y2="184" stroke="#c8c8c8" stroke-width="0.95" />
<line x1="305.7" y1="173.8" x2="308.1" y2="173.8" stroke="#c8c8c8" stroke-width="0.8" />
<line x1="316.41" y1="170.6" x2="316.41" y2="184" stroke="#c8c8c8" stroke-width="0.95" />
<line x1="315.21" y1="170.6" x2="317.61" y2="170.6" stroke="#c8c8c8" stroke-width="0.8" />
<line x1="325.92" y1="171.7" x2="325.92" y2="184" stroke="#c8c8c8" stroke-width="0.95" />
<line x1="324.72" y1="171.7" x2="327.12" y2="171.7" stroke="#c8c8c8" stroke-width="0.8" />
<line x1="335.43" y1="159.9" x2="335.43" y2="180" stroke="#c8c8c8" stroke-width="0.95" />
<line x1="334.23" y1="159.9" x2="336.63" y2="159.9" stroke="#c8c8c8" stroke-width="0.8" />
<line x1="344.94" y1="162.9" x2="344.94" y2="180" stroke="#c8c8c8" stroke-width="0.95" />
<line x1="343.74" y1="162.9" x2="346.14" y2="162.9" stroke="#c8c8c8" stroke-width="0.8" />
<line x1="354.45" y1="159.8" x2="354.45" y2="175" stroke="#c8c8c8" stroke-width="0.95" />
<line x1="353.25" y1="159.8" x2="355.65" y2="159.8" stroke="#c8c8c8" stroke-width="0.8" />
<line x1="363.96" y1="159.8" x2="363.96" y2="178.5" stroke="#c8c8c8" stroke-width="0.95" />
<line x1="362.76" y1="159.8" x2="365.16" y2="159.8" stroke="#c8c8c8" stroke-width="0.8" />
<line x1="373.47" y1="117.7" x2="373.47" y2="168" stroke="#c8c8c8" stroke-width="0.95" />
<line x1="372.27" y1="117.7" x2="374.67" y2="117.7" stroke="#c8c8c8" stroke-width="0.8" />
<line x1="382.98" y1="169.2" x2="382.98" y2="183" stroke="#c8c8c8" stroke-width="0.95" />
<line x1="381.78" y1="169.2" x2="384.18" y2="169.2" stroke="#c8c8c8" stroke-width="0.8" />
<polyline points="211.8,187.5 221.31,187.5 230.82,187.5 240.33,188.4 249.84,188.4 259.35,187.5 268.86,187 278.37,186.5 287.88,185.4 297.39,174.6 306.9,183 316.41,180 325.92,177.7 335.43,170.1 344.94,175.1 354.45,180.6 363.96,168.5 373.47,170.7 382.98,177.2" fill="none" stroke="#222" stroke-width="0.55" stroke-linejoin="round" />
<polyline points="211.8,186 221.31,186 230.82,186 240.33,188.4 249.84,188.4 259.35,187.5 268.86,186.5 278.37,186 287.88,185.4 297.39,184.8 306.9,183.2 316.41,180.6 325.92,183.2 335.43,185.2 344.94,178.5 354.45,167 363.96,167.9 373.47,183.3 382.98,182.6" fill="none" stroke="#000" stroke-width="1.2" stroke-linejoin="round" stroke-dasharray="2.0,0.9"/>
<polyline points="211.8,187.5 221.31,187.5 230.82,187.5 240.33,188.4 249.84,188.4 259.35,187.5 268.86,187 278.37,186.5 287.88,185.4 297.39,184.8 306.9,179.1 316.41,177 325.92,178.5 335.43,176.8 344.94,171.7 354.45,172.4 363.96,167.9 373.47,142.9 382.98,175.8" fill="none" stroke="#000" stroke-width="1.2" stroke-linejoin="round" />
<circle cx="211.8" cy="187.5" r="1.55" fill="#fff" stroke="#000" stroke-width="0.7"/>
<circle cx="221.31" cy="187.5" r="1.55" fill="#fff" stroke="#000" stroke-width="0.7"/>
<circle cx="230.82" cy="187.5" r="1.55" fill="#fff" stroke="#000" stroke-width="0.7"/>
<circle cx="240.33" cy="188.4" r="1.55" fill="#fff" stroke="#000" stroke-width="0.7"/>
<circle cx="249.84" cy="188.4" r="1.55" fill="#fff" stroke="#000" stroke-width="0.7"/>
<circle cx="259.35" cy="187.5" r="1.55" fill="#fff" stroke="#000" stroke-width="0.7"/>
<circle cx="268.86" cy="187" r="1.55" fill="#fff" stroke="#000" stroke-width="0.7"/>
<circle cx="278.37" cy="186.5" r="1.55" fill="#fff" stroke="#000" stroke-width="0.7"/>
<circle cx="287.88" cy="185.4" r="1.55" fill="#fff" stroke="#000" stroke-width="0.7"/>
<circle cx="297.39" cy="174.6" r="1.55" fill="#fff" stroke="#000" stroke-width="0.7"/>
<circle cx="306.9" cy="183" r="1.55" fill="#fff" stroke="#000" stroke-width="0.7"/>
<circle cx="316.41" cy="180" r="1.55" fill="#fff" stroke="#000" stroke-width="0.7"/>
<circle cx="325.92" cy="177.7" r="1.55" fill="#fff" stroke="#000" stroke-width="0.7"/>
<circle cx="335.43" cy="170.1" r="1.55" fill="#fff" stroke="#000" stroke-width="0.7"/>
<circle cx="344.94" cy="175.1" r="1.55" fill="#fff" stroke="#000" stroke-width="0.7"/>
<circle cx="354.45" cy="180.6" r="1.55" fill="#fff" stroke="#000" stroke-width="0.7"/>
<circle cx="363.96" cy="168.5" r="1.55" fill="#fff" stroke="#000" stroke-width="0.7"/>
<circle cx="373.47" cy="170.7" r="1.55" fill="#fff" stroke="#000" stroke-width="0.7"/>
<circle cx="382.98" cy="177.2" r="1.55" fill="#fff" stroke="#000" stroke-width="0.7"/>
<polygon points="211.8,183.9 209.7,187.68 213.9,187.68" fill="#000"/>
<polygon points="221.31,183.9 219.21,187.68 223.41,187.68" fill="#000"/>
<polygon points="230.82,183.9 228.72,187.68 232.92,187.68" fill="#000"/>
<polygon points="240.33,186.3 238.23,190.08 242.43,190.08" fill="#000"/>
<polygon points="249.84,186.3 247.74,190.08 251.94,190.08" fill="#000"/>
<polygon points="259.35,185.4 257.25,189.18 261.45,189.18" fill="#000"/>
<polygon points="268.86,184.4 266.76,188.18 270.96,188.18" fill="#000"/>
<polygon points="278.37,183.9 276.27,187.68 280.47,187.68" fill="#000"/>
<polygon points="287.88,183.3 285.78,187.08 289.98,187.08" fill="#000"/>
<polygon points="297.39,182.7 295.29,186.48 299.49,186.48" fill="#000"/>
<polygon points="306.9,181.1 304.8,184.88 309,184.88" fill="#000"/>
<polygon points="316.41,178.5 314.31,182.28 318.51,182.28" fill="#000"/>
<polygon points="325.92,181.1 323.82,184.88 328.02,184.88" fill="#000"/>
<polygon points="335.43,183.1 333.33,186.88 337.53,186.88" fill="#000"/>
<polygon points="344.94,176.4 342.84,180.18 347.04,180.18" fill="#000"/>
<polygon points="354.45,164.9 352.35,168.68 356.55,168.68" fill="#000"/>
<polygon points="363.96,165.8 361.86,169.58 366.06,169.58" fill="#000"/>
<polygon points="373.47,181.2 371.37,184.98 375.57,184.98" fill="#000"/>
<polygon points="382.98,180.5 380.88,184.28 385.08,184.28" fill="#000"/>
<circle cx="211.8" cy="187.5" r="1.9" fill="#000" stroke="none" stroke-width="0.8"/>
<circle cx="221.31" cy="187.5" r="1.9" fill="#000" stroke="none" stroke-width="0.8"/>
<circle cx="230.82" cy="187.5" r="1.9" fill="#000" stroke="none" stroke-width="0.8"/>
<circle cx="240.33" cy="188.4" r="1.9" fill="#000" stroke="none" stroke-width="0.8"/>
<circle cx="249.84" cy="188.4" r="1.9" fill="#000" stroke="none" stroke-width="0.8"/>
<circle cx="259.35" cy="187.5" r="1.9" fill="#000" stroke="none" stroke-width="0.8"/>
<circle cx="268.86" cy="187" r="1.9" fill="#000" stroke="none" stroke-width="0.8"/>
<circle cx="278.37" cy="186.5" r="1.9" fill="#000" stroke="none" stroke-width="0.8"/>
<circle cx="287.88" cy="185.4" r="1.9" fill="#000" stroke="none" stroke-width="0.8"/>
<circle cx="297.39" cy="184.8" r="1.9" fill="#000" stroke="none" stroke-width="0.8"/>
<circle cx="306.9" cy="179.1" r="1.9" fill="#000" stroke="none" stroke-width="0.8"/>
<circle cx="316.41" cy="177" r="1.9" fill="#000" stroke="none" stroke-width="0.8"/>
<circle cx="325.92" cy="178.5" r="1.9" fill="#000" stroke="none" stroke-width="0.8"/>
<circle cx="335.43" cy="176.8" r="1.9" fill="#000" stroke="none" stroke-width="0.8"/>
<circle cx="344.94" cy="171.7" r="1.9" fill="#000" stroke="none" stroke-width="0.8"/>
<circle cx="354.45" cy="172.4" r="1.9" fill="#000" stroke="none" stroke-width="0.8"/>
<circle cx="363.96" cy="167.9" r="1.9" fill="#000" stroke="none" stroke-width="0.8"/>
<circle cx="373.47" cy="142.9" r="1.9" fill="#000" stroke="none" stroke-width="0.8"/>
<circle cx="382.98" cy="175.8" r="1.9" fill="#000" stroke="none" stroke-width="0.8"/>
<text x="37.9" y="140.2" font-size="6.2" text-anchor="start" font-weight="normal" >F</text>
<text x="41.2" y="142.5" font-size="4.6" text-anchor="start" font-weight="normal" >O</text>
<line x1="41.3" y1="143.9" x2="41.3" y2="159.5" stroke="#7a7a7a" stroke-width="0.9" />
<polygon points="39.5,159 43.1,159 41.3,162.6" fill="#000"/>
<text x="218" y="137.6" font-size="6.2" text-anchor="start" font-weight="normal" >F</text>
<text x="221.3" y="139.9" font-size="4.6" text-anchor="start" font-weight="normal" >O</text>
<line x1="221.4" y1="140.4" x2="221.4" y2="156.5" stroke="#8a8a8a" stroke-width="0.9" />
<polygon points="219.6,156 223.2,156 221.4,159.6" fill="#000"/>
<line x1="28.5" y1="287.6" x2="206.2" y2="287.6" stroke="#7a7a7a" stroke-width="1.0" />
<line x1="37.88" y1="287.6" x2="37.88" y2="289.4" stroke="#555" stroke-width="0.6" />
<line x1="47.24" y1="287.6" x2="47.24" y2="289.4" stroke="#555" stroke-width="0.6" />
<line x1="56.6" y1="287.6" x2="56.6" y2="289.4" stroke="#555" stroke-width="0.6" />
<line x1="65.96" y1="287.6" x2="65.96" y2="289.4" stroke="#555" stroke-width="0.6" />
<line x1="75.32" y1="287.6" x2="75.32" y2="289.4" stroke="#555" stroke-width="0.6" />
<line x1="84.68" y1="287.6" x2="84.68" y2="289.4" stroke="#555" stroke-width="0.6" />
<line x1="94.04" y1="287.6" x2="94.04" y2="289.4" stroke="#555" stroke-width="0.6" />
<line x1="103.4" y1="287.6" x2="103.4" y2="289.4" stroke="#555" stroke-width="0.6" />
<line x1="112.76" y1="287.6" x2="112.76" y2="289.4" stroke="#555" stroke-width="0.6" />
<line x1="122.12" y1="287.6" x2="122.12" y2="289.4" stroke="#555" stroke-width="0.6" />
<line x1="131.48" y1="287.6" x2="131.48" y2="289.4" stroke="#555" stroke-width="0.6" />
<line x1="140.84" y1="287.6" x2="140.84" y2="289.4" stroke="#555" stroke-width="0.6" />
<line x1="150.2" y1="287.6" x2="150.2" y2="289.4" stroke="#555" stroke-width="0.6" />
<line x1="159.56" y1="287.6" x2="159.56" y2="289.4" stroke="#555" stroke-width="0.6" />
<line x1="168.92" y1="287.6" x2="168.92" y2="289.4" stroke="#555" stroke-width="0.6" />
<line x1="178.28" y1="287.6" x2="178.28" y2="289.4" stroke="#555" stroke-width="0.6" />
<line x1="187.64" y1="287.6" x2="187.64" y2="289.4" stroke="#555" stroke-width="0.6" />
<line x1="197" y1="287.6" x2="197" y2="289.4" stroke="#555" stroke-width="0.6" />
<line x1="206.36" y1="287.6" x2="206.36" y2="289.4" stroke="#555" stroke-width="0.6" />
<line x1="208.6" y1="287.6" x2="385.4" y2="287.6" stroke="#7a7a7a" stroke-width="1.0" />
<line x1="216.4" y1="287.6" x2="216.4" y2="289.4" stroke="#555" stroke-width="0.6" />
<line x1="225.79" y1="287.6" x2="225.79" y2="289.4" stroke="#555" stroke-width="0.6" />
<line x1="235.18" y1="287.6" x2="235.18" y2="289.4" stroke="#555" stroke-width="0.6" />
<line x1="244.57" y1="287.6" x2="244.57" y2="289.4" stroke="#555" stroke-width="0.6" />
<line x1="253.96" y1="287.6" x2="253.96" y2="289.4" stroke="#555" stroke-width="0.6" />
<line x1="263.35" y1="287.6" x2="263.35" y2="289.4" stroke="#555" stroke-width="0.6" />
<line x1="272.74" y1="287.6" x2="272.74" y2="289.4" stroke="#555" stroke-width="0.6" />
<line x1="282.13" y1="287.6" x2="282.13" y2="289.4" stroke="#555" stroke-width="0.6" />
<line x1="291.52" y1="287.6" x2="291.52" y2="289.4" stroke="#555" stroke-width="0.6" />
<line x1="300.91" y1="287.6" x2="300.91" y2="289.4" stroke="#555" stroke-width="0.6" />
<line x1="310.3" y1="287.6" x2="310.3" y2="289.4" stroke="#555" stroke-width="0.6" />
<line x1="319.69" y1="287.6" x2="319.69" y2="289.4" stroke="#555" stroke-width="0.6" />
<line x1="329.08" y1="287.6" x2="329.08" y2="289.4" stroke="#555" stroke-width="0.6" />
<line x1="338.47" y1="287.6" x2="338.47" y2="289.4" stroke="#555" stroke-width="0.6" />
<line x1="347.86" y1="287.6" x2="347.86" y2="289.4" stroke="#555" stroke-width="0.6" />
<line x1="357.25" y1="287.6" x2="357.25" y2="289.4" stroke="#555" stroke-width="0.6" />
<line x1="366.64" y1="287.6" x2="366.64" y2="289.4" stroke="#555" stroke-width="0.6" />
<line x1="376.03" y1="287.6" x2="376.03" y2="289.4" stroke="#555" stroke-width="0.6" />
<line x1="385.42" y1="287.6" x2="385.42" y2="289.4" stroke="#555" stroke-width="0.6" />
<text transform="translate(33.2,297) scale(1,1.1)" font-size="6.2" text-anchor="middle" font-weight="normal" >-1</text>
<text transform="translate(42.56,297) scale(1,1.1)" font-size="6.2" text-anchor="middle" font-weight="normal" >0</text>
<text transform="translate(51.92,297) scale(1,1.1)" font-size="6.2" text-anchor="middle" font-weight="normal" >1</text>
<text transform="translate(61.28,297) scale(1,1.1)" font-size="6.2" text-anchor="middle" font-weight="normal" >2</text>
<text transform="translate(70.64,297) scale(1,1.1)" font-size="6.2" text-anchor="middle" font-weight="normal" >3</text>
<text transform="translate(80,297) scale(1,1.1)" font-size="6.2" text-anchor="middle" font-weight="normal" >4</text>
<text transform="translate(89.36,297) scale(1,1.1)" font-size="6.2" text-anchor="middle" font-weight="normal" >6</text>
<text transform="translate(98.72,297) scale(1,1.1)" font-size="6.2" text-anchor="middle" font-weight="normal" >7</text>
<text transform="translate(108.08,297) scale(1,1.1)" font-size="6.2" text-anchor="middle" font-weight="normal" >9</text>
<text transform="translate(117.44,297) scale(1,1.1)" font-size="6.2" text-anchor="middle" font-weight="normal" >11</text>
<text transform="translate(126.8,297) scale(1,1.1)" font-size="6.2" text-anchor="middle" font-weight="normal" >13</text>
<text transform="translate(136.16,297) scale(1,1.1)" font-size="6.2" text-anchor="middle" font-weight="normal" >15</text>
<text transform="translate(145.52,297) scale(1,1.1)" font-size="6.2" text-anchor="middle" font-weight="normal" >17</text>
<text transform="translate(154.88,297) scale(1,1.1)" font-size="6.2" text-anchor="middle" font-weight="normal" >19</text>
<text transform="translate(164.24,297) scale(1,1.1)" font-size="6.2" text-anchor="middle" font-weight="normal" >21</text>
<text transform="translate(173.6,297) scale(1,1.1)" font-size="6.2" text-anchor="middle" font-weight="normal" >23</text>
<text transform="translate(182.96,297) scale(1,1.1)" font-size="6.2" text-anchor="middle" font-weight="normal" >25</text>
<text transform="translate(192.32,297) scale(1,1.1)" font-size="6.2" text-anchor="middle" font-weight="normal" >27</text>
<text transform="translate(201.68,297) scale(1,1.1)" font-size="6.2" text-anchor="middle" font-weight="normal" >29</text>
<text transform="translate(211.7,297) scale(1,1.1)" font-size="6.2" text-anchor="middle" font-weight="normal" >-1</text>
<text transform="translate(221.09,297) scale(1,1.1)" font-size="6.2" text-anchor="middle" font-weight="normal" >0</text>
<text transform="translate(230.48,297) scale(1,1.1)" font-size="6.2" text-anchor="middle" font-weight="normal" >1</text>
<text transform="translate(239.87,297) scale(1,1.1)" font-size="6.2" text-anchor="middle" font-weight="normal" >2</text>
<text transform="translate(249.26,297) scale(1,1.1)" font-size="6.2" text-anchor="middle" font-weight="normal" >3</text>
<text transform="translate(258.65,297) scale(1,1.1)" font-size="6.2" text-anchor="middle" font-weight="normal" >4</text>
<text transform="translate(268.04,297) scale(1,1.1)" font-size="6.2" text-anchor="middle" font-weight="normal" >6</text>
<text transform="translate(277.43,297) scale(1,1.1)" font-size="6.2" text-anchor="middle" font-weight="normal" >7</text>
<text transform="translate(286.82,297) scale(1,1.1)" font-size="6.2" text-anchor="middle" font-weight="normal" >9</text>
<text transform="translate(296.21,297) scale(1,1.1)" font-size="6.2" text-anchor="middle" font-weight="normal" >11</text>
<text transform="translate(305.6,297) scale(1,1.1)" font-size="6.2" text-anchor="middle" font-weight="normal" >13</text>
<text transform="translate(314.99,297) scale(1,1.1)" font-size="6.2" text-anchor="middle" font-weight="normal" >15</text>
<text transform="translate(324.38,297) scale(1,1.1)" font-size="6.2" text-anchor="middle" font-weight="normal" >17</text>
<text transform="translate(333.77,297) scale(1,1.1)" font-size="6.2" text-anchor="middle" font-weight="normal" >19</text>
<text transform="translate(343.16,297) scale(1,1.1)" font-size="6.2" text-anchor="middle" font-weight="normal" >21</text>
<text transform="translate(352.55,297) scale(1,1.1)" font-size="6.2" text-anchor="middle" font-weight="normal" >23</text>
<text transform="translate(361.94,297) scale(1,1.1)" font-size="6.2" text-anchor="middle" font-weight="normal" >25</text>
<text transform="translate(371.33,297) scale(1,1.1)" font-size="6.2" text-anchor="middle" font-weight="normal" >27</text>
<text transform="translate(380.72,297) scale(1,1.1)" font-size="6.2" text-anchor="middle" font-weight="normal" >29</text>
<text transform="translate(59,306.9) scale(1,1.15)" font-size="6.45" text-anchor="start" font-weight="normal" style="stroke-width:0.1px;text-rendering:geometricPrecision">Days before/after fertilization of April</text>
<text transform="translate(239.3,306.9) scale(1,1.15)" font-size="6.35" text-anchor="start" font-weight="normal" style="stroke-width:0.1px;text-rendering:geometricPrecision">Days before/after fertilization of April</text>
<line x1="33.2" y1="281" x2="33.2" y2="288" stroke="#c8c8c8" stroke-width="0.95" />
<line x1="32" y1="281" x2="34.4" y2="281" stroke="#c8c8c8" stroke-width="0.8" />
<line x1="70.64" y1="275.2" x2="70.64" y2="285" stroke="#c8c8c8" stroke-width="0.95" />
<line x1="69.44" y1="275.2" x2="71.84" y2="275.2" stroke="#c8c8c8" stroke-width="0.8" />
<line x1="80" y1="259.4" x2="80" y2="273.9" stroke="#c8c8c8" stroke-width="0.95" />
<line x1="78.8" y1="259.4" x2="81.2" y2="259.4" stroke="#c8c8c8" stroke-width="0.8" />
<line x1="89.36" y1="257.2" x2="89.36" y2="273.9" stroke="#c8c8c8" stroke-width="0.95" />
<line x1="88.16" y1="257.2" x2="90.56" y2="257.2" stroke="#c8c8c8" stroke-width="0.8" />
<line x1="108.08" y1="251.4" x2="108.08" y2="269.3" stroke="#c8c8c8" stroke-width="0.95" />
<line x1="106.88" y1="251.4" x2="109.28" y2="251.4" stroke="#c8c8c8" stroke-width="0.8" />
<line x1="117.44" y1="252.6" x2="117.44" y2="269" stroke="#c8c8c8" stroke-width="0.95" />
<line x1="116.24" y1="252.6" x2="118.64" y2="252.6" stroke="#c8c8c8" stroke-width="0.8" />
<line x1="126.8" y1="253.3" x2="126.8" y2="267" stroke="#c8c8c8" stroke-width="0.95" />
<line x1="125.6" y1="253.3" x2="128" y2="253.3" stroke="#c8c8c8" stroke-width="0.8" />
<line x1="136.16" y1="241.3" x2="136.16" y2="265" stroke="#c8c8c8" stroke-width="0.95" />
<line x1="134.96" y1="241.3" x2="137.36" y2="241.3" stroke="#c8c8c8" stroke-width="0.8" />
<line x1="145.52" y1="213.6" x2="145.52" y2="251.5" stroke="#c8c8c8" stroke-width="0.95" />
<line x1="144.32" y1="213.6" x2="146.72" y2="213.6" stroke="#c8c8c8" stroke-width="0.8" />
<line x1="154.88" y1="213.6" x2="154.88" y2="255.7" stroke="#c8c8c8" stroke-width="0.95" />
<line x1="153.68" y1="213.6" x2="156.08" y2="213.6" stroke="#c8c8c8" stroke-width="0.8" />
<line x1="164.24" y1="220.9" x2="164.24" y2="289.5" stroke="#c8c8c8" stroke-width="0.95" />
<line x1="163.04" y1="220.9" x2="165.44" y2="220.9" stroke="#c8c8c8" stroke-width="0.8" />
<line x1="173.6" y1="254.3" x2="173.6" y2="271.2" stroke="#c8c8c8" stroke-width="0.95" />
<line x1="172.4" y1="254.3" x2="174.8" y2="254.3" stroke="#c8c8c8" stroke-width="0.8" />
<line x1="182.96" y1="217.7" x2="182.96" y2="257.1" stroke="#c8c8c8" stroke-width="0.95" />
<line x1="181.76" y1="217.7" x2="184.16" y2="217.7" stroke="#c8c8c8" stroke-width="0.8" />
<line x1="192.32" y1="224.7" x2="192.32" y2="268.4" stroke="#c8c8c8" stroke-width="0.95" />
<line x1="191.12" y1="224.7" x2="193.52" y2="224.7" stroke="#c8c8c8" stroke-width="0.8" />
<line x1="201.68" y1="233.2" x2="201.68" y2="278.2" stroke="#c8c8c8" stroke-width="0.95" />
<line x1="200.48" y1="233.2" x2="202.88" y2="233.2" stroke="#c8c8c8" stroke-width="0.8" />
<polyline points="33.2,286.5 42.56,287 51.92,286.8 61.28,286.8 70.64,286.8 80,286.4 89.36,287.6 98.72,287.2 108.08,286.7 117.44,287.3 126.8,287.1 136.16,285.9 145.52,285.4 154.88,286.4 164.24,287 173.6,287 182.96,286.4 192.32,287 201.68,287" fill="none" stroke="#222" stroke-width="0.55" stroke-linejoin="round" />
<polyline points="33.2,283.8 42.56,286.6 51.92,286.2 61.28,282.6 70.64,280.2 80,268.6 89.36,265.5 98.72,280.7 108.08,260.2 117.44,260.7 126.8,259.1 136.16,253 145.52,218.5 154.88,225.3 164.24,256.5 173.6,262.7 182.96,238.2 192.32,247.3 201.68,256.3" fill="none" stroke="#000" stroke-width="1.2" stroke-linejoin="round" stroke-dasharray="2.0,0.9"/>
<polyline points="33.2,285.2 42.56,286.6 51.92,286.2 61.28,282.6 70.64,280.2 80,280.3 89.36,281.8 98.72,276.6 108.08,281.2 117.44,277.7 126.8,279.5 136.16,278.4 145.52,281.4 154.88,278.8 164.24,281.6 173.6,280.5 182.96,277.7 192.32,284.7 201.68,286.1" fill="none" stroke="#000" stroke-width="1.2" stroke-linejoin="round" />
<circle cx="33.2" cy="286.5" r="1.55" fill="#fff" stroke="#000" stroke-width="0.7"/>
<circle cx="42.56" cy="287" r="1.55" fill="#fff" stroke="#000" stroke-width="0.7"/>
<circle cx="51.92" cy="286.8" r="1.55" fill="#fff" stroke="#000" stroke-width="0.7"/>
<circle cx="61.28" cy="286.8" r="1.55" fill="#fff" stroke="#000" stroke-width="0.7"/>
<circle cx="70.64" cy="286.8" r="1.55" fill="#fff" stroke="#000" stroke-width="0.7"/>
<circle cx="80" cy="286.4" r="1.55" fill="#fff" stroke="#000" stroke-width="0.7"/>
<circle cx="89.36" cy="287.6" r="1.55" fill="#fff" stroke="#000" stroke-width="0.7"/>
<circle cx="98.72" cy="287.2" r="1.55" fill="#fff" stroke="#000" stroke-width="0.7"/>
<circle cx="108.08" cy="286.7" r="1.55" fill="#fff" stroke="#000" stroke-width="0.7"/>
<circle cx="117.44" cy="287.3" r="1.55" fill="#fff" stroke="#000" stroke-width="0.7"/>
<circle cx="126.8" cy="287.1" r="1.55" fill="#fff" stroke="#000" stroke-width="0.7"/>
<circle cx="136.16" cy="285.9" r="1.55" fill="#fff" stroke="#000" stroke-width="0.7"/>
<circle cx="145.52" cy="285.4" r="1.55" fill="#fff" stroke="#000" stroke-width="0.7"/>
<circle cx="154.88" cy="286.4" r="1.55" fill="#fff" stroke="#000" stroke-width="0.7"/>
<circle cx="164.24" cy="287" r="1.55" fill="#fff" stroke="#000" stroke-width="0.7"/>
<circle cx="173.6" cy="287" r="1.55" fill="#fff" stroke="#000" stroke-width="0.7"/>
<circle cx="182.96" cy="286.4" r="1.55" fill="#fff" stroke="#000" stroke-width="0.7"/>
<circle cx="192.32" cy="287" r="1.55" fill="#fff" stroke="#000" stroke-width="0.7"/>
<circle cx="201.68" cy="287" r="1.55" fill="#fff" stroke="#000" stroke-width="0.7"/>
<polygon points="33.2,281.7 31.1,285.48 35.3,285.48" fill="#000"/>
<polygon points="42.56,284.5 40.46,288.28 44.66,288.28" fill="#000"/>
<polygon points="51.92,284.1 49.82,287.88 54.02,287.88" fill="#000"/>
<polygon points="61.28,280.5 59.18,284.28 63.38,284.28" fill="#000"/>
<polygon points="70.64,278.1 68.54,281.88 72.74,281.88" fill="#000"/>
<polygon points="80,266.5 77.9,270.28 82.1,270.28" fill="#000"/>
<polygon points="89.36,263.4 87.26,267.18 91.46,267.18" fill="#000"/>
<polygon points="98.72,278.6 96.62,282.38 100.82,282.38" fill="#000"/>
<polygon points="108.08,258.1 105.98,261.88 110.18,261.88" fill="#000"/>
<polygon points="117.44,258.6 115.34,262.38 119.54,262.38" fill="#000"/>
<polygon points="126.8,257 124.7,260.78 128.9,260.78" fill="#000"/>
<polygon points="136.16,250.9 134.06,254.68 138.26,254.68" fill="#000"/>
<polygon points="145.52,216.4 143.42,220.18 147.62,220.18" fill="#000"/>
<polygon points="154.88,223.2 152.78,226.98 156.98,226.98" fill="#000"/>
<polygon points="164.24,254.4 162.14,258.18 166.34,258.18" fill="#000"/>
<polygon points="173.6,260.6 171.5,264.38 175.7,264.38" fill="#000"/>
<polygon points="182.96,236.1 180.86,239.88 185.06,239.88" fill="#000"/>
<polygon points="192.32,245.2 190.22,248.98 194.42,248.98" fill="#000"/>
<polygon points="201.68,254.2 199.58,257.98 203.78,257.98" fill="#000"/>
<circle cx="33.2" cy="285.2" r="1.9" fill="#000" stroke="none" stroke-width="0.8"/>
<circle cx="42.56" cy="286.6" r="1.9" fill="#000" stroke="none" stroke-width="0.8"/>
<circle cx="51.92" cy="286.2" r="1.9" fill="#000" stroke="none" stroke-width="0.8"/>
<circle cx="61.28" cy="282.6" r="1.9" fill="#000" stroke="none" stroke-width="0.8"/>
<circle cx="70.64" cy="280.2" r="1.9" fill="#000" stroke="none" stroke-width="0.8"/>
<circle cx="80" cy="280.3" r="1.9" fill="#000" stroke="none" stroke-width="0.8"/>
<circle cx="89.36" cy="281.8" r="1.9" fill="#000" stroke="none" stroke-width="0.8"/>
<circle cx="98.72" cy="276.6" r="1.9" fill="#000" stroke="none" stroke-width="0.8"/>
<circle cx="108.08" cy="281.2" r="1.9" fill="#000" stroke="none" stroke-width="0.8"/>
<circle cx="117.44" cy="277.7" r="1.9" fill="#000" stroke="none" stroke-width="0.8"/>
<circle cx="126.8" cy="279.5" r="1.9" fill="#000" stroke="none" stroke-width="0.8"/>
<circle cx="136.16" cy="278.4" r="1.9" fill="#000" stroke="none" stroke-width="0.8"/>
<circle cx="145.52" cy="281.4" r="1.9" fill="#000" stroke="none" stroke-width="0.8"/>
<circle cx="154.88" cy="278.8" r="1.9" fill="#000" stroke="none" stroke-width="0.8"/>
<circle cx="164.24" cy="281.6" r="1.9" fill="#000" stroke="none" stroke-width="0.8"/>
<circle cx="173.6" cy="280.5" r="1.9" fill="#000" stroke="none" stroke-width="0.8"/>
<circle cx="182.96" cy="277.7" r="1.9" fill="#000" stroke="none" stroke-width="0.8"/>
<circle cx="192.32" cy="284.7" r="1.9" fill="#000" stroke="none" stroke-width="0.8"/>
<circle cx="201.68" cy="286.1" r="1.9" fill="#000" stroke="none" stroke-width="0.8"/>
<line x1="221.09" y1="278.6" x2="221.09" y2="285" stroke="#c8c8c8" stroke-width="0.95" />
<line x1="219.89" y1="278.6" x2="222.29" y2="278.6" stroke="#c8c8c8" stroke-width="0.8" />
<line x1="230.48" y1="268.7" x2="230.48" y2="287" stroke="#c8c8c8" stroke-width="0.95" />
<line x1="229.28" y1="268.7" x2="231.68" y2="268.7" stroke="#c8c8c8" stroke-width="0.8" />
<line x1="239.87" y1="272.7" x2="239.87" y2="281" stroke="#c8c8c8" stroke-width="0.95" />
<line x1="238.67" y1="272.7" x2="241.07" y2="272.7" stroke="#c8c8c8" stroke-width="0.8" />
<line x1="249.26" y1="272.8" x2="249.26" y2="290" stroke="#c8c8c8" stroke-width="0.95" />
<line x1="248.06" y1="272.8" x2="250.46" y2="272.8" stroke="#c8c8c8" stroke-width="0.8" />
<line x1="258.65" y1="259.9" x2="258.65" y2="289" stroke="#c8c8c8" stroke-width="0.95" />
<line x1="257.45" y1="259.9" x2="259.85" y2="259.9" stroke="#c8c8c8" stroke-width="0.8" />
<line x1="268.04" y1="245.4" x2="268.04" y2="282" stroke="#c8c8c8" stroke-width="0.95" />
<line x1="266.84" y1="245.4" x2="269.24" y2="245.4" stroke="#c8c8c8" stroke-width="0.8" />
<line x1="277.43" y1="276.2" x2="277.43" y2="288" stroke="#c8c8c8" stroke-width="0.95" />
<line x1="276.23" y1="276.2" x2="278.63" y2="276.2" stroke="#c8c8c8" stroke-width="0.8" />
<line x1="286.82" y1="252.6" x2="286.82" y2="282" stroke="#c8c8c8" stroke-width="0.95" />
<line x1="285.62" y1="252.6" x2="288.02" y2="252.6" stroke="#c8c8c8" stroke-width="0.8" />
<line x1="296.21" y1="277.1" x2="296.21" y2="285" stroke="#c8c8c8" stroke-width="0.95" />
<line x1="295.01" y1="277.1" x2="297.41" y2="277.1" stroke="#c8c8c8" stroke-width="0.8" />
<line x1="305.6" y1="264" x2="305.6" y2="286" stroke="#c8c8c8" stroke-width="0.95" />
<line x1="304.4" y1="264" x2="306.8" y2="264" stroke="#c8c8c8" stroke-width="0.8" />
<line x1="314.99" y1="264" x2="314.99" y2="283" stroke="#c8c8c8" stroke-width="0.95" />
<line x1="313.79" y1="264" x2="316.19" y2="264" stroke="#c8c8c8" stroke-width="0.8" />
<line x1="324.38" y1="259.3" x2="324.38" y2="281" stroke="#c8c8c8" stroke-width="0.95" />
<line x1="323.18" y1="259.3" x2="325.58" y2="259.3" stroke="#c8c8c8" stroke-width="0.8" />
<line x1="343.16" y1="268.4" x2="343.16" y2="288" stroke="#c8c8c8" stroke-width="0.95" />
<line x1="341.96" y1="268.4" x2="344.36" y2="268.4" stroke="#c8c8c8" stroke-width="0.8" />
<line x1="352.55" y1="279.2" x2="352.55" y2="289" stroke="#c8c8c8" stroke-width="0.95" />
<line x1="351.35" y1="279.2" x2="353.75" y2="279.2" stroke="#c8c8c8" stroke-width="0.8" />
<line x1="361.94" y1="271" x2="361.94" y2="284" stroke="#c8c8c8" stroke-width="0.95" />
<line x1="360.74" y1="271" x2="363.14" y2="271" stroke="#c8c8c8" stroke-width="0.8" />
<line x1="371.33" y1="260.8" x2="371.33" y2="282" stroke="#c8c8c8" stroke-width="0.95" />
<line x1="370.13" y1="260.8" x2="372.53" y2="260.8" stroke="#c8c8c8" stroke-width="0.8" />
<line x1="380.72" y1="269.5" x2="380.72" y2="284" stroke="#c8c8c8" stroke-width="0.95" />
<line x1="379.52" y1="269.5" x2="381.92" y2="269.5" stroke="#c8c8c8" stroke-width="0.8" />
<polyline points="211.7,286 221.09,285.8 230.48,285.1 239.87,276.8 249.26,281.2 258.65,278.4 268.04,285.8 277.43,282.2 286.82,278.3 296.21,281 305.6,284.7 314.99,282.5 324.38,278.1 333.77,281 343.16,281.8 352.55,284 361.94,279.5 371.33,283.5 380.72,281.8" fill="none" stroke="#222" stroke-width="0.55" stroke-linejoin="round" />
<polyline points="211.7,284.2 221.09,282.1 230.48,278" fill="none" stroke="#000" stroke-width="1.2" stroke-linejoin="round" stroke-dasharray="2.0,0.9"/>
<polyline points="249.26,283.8 258.65,274.3 268.04,263.6 277.43,282.2 286.82,267.1 296.21,281 305.6,274.9 314.99,273.2 324.38,270.1 333.77,279.2 343.16,278.1 352.55,284 361.94,277.5 371.33,271.6 380.72,276.6" fill="none" stroke="#000" stroke-width="1.2" stroke-linejoin="round" stroke-dasharray="2.0,0.9"/>
<polyline points="211.7,286 221.09,285.8 230.48,285.1 239.87,284.5 249.26,277.5 258.65,288.3 268.04,281.2 277.43,282.2 286.82,281.4 296.21,281 305.6,286.2 314.99,283.1 324.38,289 333.77,281 343.16,281.8 352.55,284 361.94,284 371.33,284 380.72,283.1" fill="none" stroke="#000" stroke-width="1.2" stroke-linejoin="round" />
<circle cx="211.7" cy="286" r="1.55" fill="#fff" stroke="#000" stroke-width="0.7"/>
<circle cx="221.09" cy="285.8" r="1.55" fill="#fff" stroke="#000" stroke-width="0.7"/>
<circle cx="230.48" cy="285.1" r="1.55" fill="#fff" stroke="#000" stroke-width="0.7"/>
<circle cx="239.87" cy="276.8" r="1.55" fill="#fff" stroke="#000" stroke-width="0.7"/>
<circle cx="249.26" cy="281.2" r="1.55" fill="#fff" stroke="#000" stroke-width="0.7"/>
<circle cx="258.65" cy="278.4" r="1.55" fill="#fff" stroke="#000" stroke-width="0.7"/>
<circle cx="268.04" cy="285.8" r="1.55" fill="#fff" stroke="#000" stroke-width="0.7"/>
<circle cx="277.43" cy="282.2" r="1.55" fill="#fff" stroke="#000" stroke-width="0.7"/>
<circle cx="286.82" cy="278.3" r="1.55" fill="#fff" stroke="#000" stroke-width="0.7"/>
<circle cx="296.21" cy="281" r="1.55" fill="#fff" stroke="#000" stroke-width="0.7"/>
<circle cx="305.6" cy="284.7" r="1.55" fill="#fff" stroke="#000" stroke-width="0.7"/>
<circle cx="314.99" cy="282.5" r="1.55" fill="#fff" stroke="#000" stroke-width="0.7"/>
<circle cx="324.38" cy="278.1" r="1.55" fill="#fff" stroke="#000" stroke-width="0.7"/>
<circle cx="333.77" cy="281" r="1.55" fill="#fff" stroke="#000" stroke-width="0.7"/>
<circle cx="343.16" cy="281.8" r="1.55" fill="#fff" stroke="#000" stroke-width="0.7"/>
<circle cx="352.55" cy="284" r="1.55" fill="#fff" stroke="#000" stroke-width="0.7"/>
<circle cx="361.94" cy="279.5" r="1.55" fill="#fff" stroke="#000" stroke-width="0.7"/>
<circle cx="371.33" cy="283.5" r="1.55" fill="#fff" stroke="#000" stroke-width="0.7"/>
<circle cx="380.72" cy="281.8" r="1.55" fill="#fff" stroke="#000" stroke-width="0.7"/>
<polygon points="211.7,282.1 209.6,285.88 213.8,285.88" fill="#000"/>
<polygon points="221.09,280 218.99,283.78 223.19,283.78" fill="#000"/>
<polygon points="230.48,275.9 228.38,279.68 232.58,279.68" fill="#000"/>
<polygon points="249.26,281.7 247.16,285.48 251.36,285.48" fill="#000"/>
<polygon points="258.65,272.2 256.55,275.98 260.75,275.98" fill="#000"/>
<polygon points="268.04,261.5 265.94,265.28 270.14,265.28" fill="#000"/>
<polygon points="277.43,280.1 275.33,283.88 279.53,283.88" fill="#000"/>
<polygon points="286.82,265 284.72,268.78 288.92,268.78" fill="#000"/>
<polygon points="296.21,278.9 294.11,282.68 298.31,282.68" fill="#000"/>
<polygon points="305.6,272.8 303.5,276.58 307.7,276.58" fill="#000"/>
<polygon points="314.99,271.1 312.89,274.88 317.09,274.88" fill="#000"/>
<polygon points="324.38,268 322.28,271.78 326.48,271.78" fill="#000"/>
<polygon points="333.77,277.1 331.67,280.88 335.87,280.88" fill="#000"/>
<polygon points="343.16,276 341.06,279.78 345.26,279.78" fill="#000"/>
<polygon points="352.55,281.9 350.45,285.68 354.65,285.68" fill="#000"/>
<polygon points="361.94,275.4 359.84,279.18 364.04,279.18" fill="#000"/>
<polygon points="371.33,269.5 369.23,273.28 373.43,273.28" fill="#000"/>
<polygon points="380.72,274.5 378.62,278.28 382.82,278.28" fill="#000"/>
<circle cx="211.7" cy="286" r="1.9" fill="#000" stroke="none" stroke-width="0.8"/>
<circle cx="221.09" cy="285.8" r="1.9" fill="#000" stroke="none" stroke-width="0.8"/>
<circle cx="230.48" cy="285.1" r="1.9" fill="#000" stroke="none" stroke-width="0.8"/>
<circle cx="239.87" cy="284.5" r="1.9" fill="#000" stroke="none" stroke-width="0.8"/>
<circle cx="249.26" cy="277.5" r="1.9" fill="#000" stroke="none" stroke-width="0.8"/>
<circle cx="258.65" cy="288.3" r="1.9" fill="#000" stroke="none" stroke-width="0.8"/>
<circle cx="268.04" cy="281.2" r="1.9" fill="#000" stroke="none" stroke-width="0.8"/>
<circle cx="277.43" cy="282.2" r="1.9" fill="#000" stroke="none" stroke-width="0.8"/>
<circle cx="286.82" cy="281.4" r="1.9" fill="#000" stroke="none" stroke-width="0.8"/>
<circle cx="296.21" cy="281" r="1.9" fill="#000" stroke="none" stroke-width="0.8"/>
<circle cx="305.6" cy="286.2" r="1.9" fill="#000" stroke="none" stroke-width="0.8"/>
<circle cx="314.99" cy="283.1" r="1.9" fill="#000" stroke="none" stroke-width="0.8"/>
<circle cx="324.38" cy="289" r="1.9" fill="#000" stroke="none" stroke-width="0.8"/>
<circle cx="333.77" cy="281" r="1.9" fill="#000" stroke="none" stroke-width="0.8"/>
<circle cx="343.16" cy="281.8" r="1.9" fill="#000" stroke="none" stroke-width="0.8"/>
<circle cx="352.55" cy="284" r="1.9" fill="#000" stroke="none" stroke-width="0.8"/>
<circle cx="361.94" cy="284" r="1.9" fill="#000" stroke="none" stroke-width="0.8"/>
<circle cx="371.33" cy="284" r="1.9" fill="#000" stroke="none" stroke-width="0.8"/>
<circle cx="380.72" cy="283.1" r="1.9" fill="#000" stroke="none" stroke-width="0.8"/>
<text x="39.2" y="239.6" font-size="6.2" text-anchor="start" font-weight="normal" >F</text>
<text x="42.5" y="241.9" font-size="4.6" text-anchor="start" font-weight="normal" >A</text>
<line x1="42.5" y1="242.9" x2="42.5" y2="258.1" stroke="#c4c4c4" stroke-width="1.5" />
<polygon points="40.7,257.6 44.3,257.6 42.5,261.3" fill="#000"/>
<text x="219.4" y="239.1" font-size="6.2" text-anchor="start" font-weight="normal" >F</text>
<text x="222.7" y="241.4" font-size="4.6" text-anchor="start" font-weight="normal" >A</text>
<line x1="222.8" y1="242.3" x2="222.8" y2="257.4" stroke="#c4c4c4" stroke-width="1.5" />
<polygon points="221,256.9 224.6,256.9 222.8,260.6" fill="#000"/>
<line x1="358" y1="14.7" x2="372.9" y2="14.7" stroke="#888" stroke-width="0.9" stroke-dasharray="1.0,0.5"/>
<circle cx="365.4" cy="14.7" r="1.5" fill="#fff" stroke="#000" stroke-width="0.8"/>
<line x1="358" y1="22.4" x2="372.9" y2="22.4" stroke="#000" stroke-width="1.0" />
<circle cx="365.4" cy="22.4" r="1.6" fill="#000" stroke="none" stroke-width="0.8"/>
<line x1="358" y1="30.3" x2="372.9" y2="30.3" stroke="#000" stroke-width="0.85" stroke-dasharray="1.9,1.2"/>
<polygon points="365.4,28.3 363.4,31.9 367.4,31.9" fill="#000"/>
<text x="374.8" y="17" font-size="6.4" text-anchor="start" font-weight="normal" >N0</text>
<text x="374.8" y="24.7" font-size="6.4" text-anchor="start" font-weight="normal" >N1</text>
<text x="374.8" y="32.6" font-size="6.4" text-anchor="start" font-weight="normal" >N2</text>
</svg></body></html>
